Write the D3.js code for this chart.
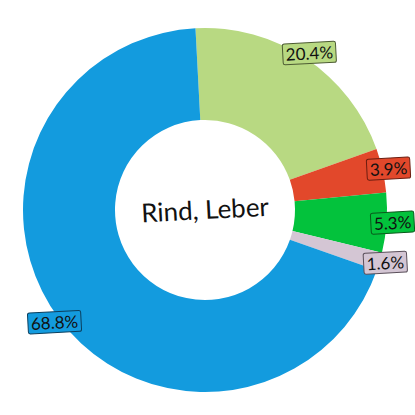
<!DOCTYPE html>
<html>
<head>
<meta charset="utf-8">
<script src="https://cdn.jsdelivr.net/npm/d3@7"></script>
<style>
  body { margin: 0; background: #fff; }
</style>
</head>
<body>
<div id="chart"></div>
<script>
// data
const categories = ["Fleisch-grün", "Rot", "Grün", "Grau", "Blau"];
const values = [20.4, 3.9, 5.3, 1.6, 68.8];
const labels = ["20.4%", "3.9%", "5.3%", "1.6%", "68.8%"];
const colors = ["#b8d982", "#e2482b", "#03c23c", "#d4c6d4", "#139bde"];
const strokes = ["#4d5c33", "#6b1d10", "#0a5a1c", "#5a4f5a", "#0b3f5e"];
const title = "Rind, Leber";

const width = 415, height = 415;
const cx = 205, cy = 210;
const outerR = 182, innerR = 90, labelR = 188;
const tilt = -3; // whole chart is slightly turned

let svg = d3.select("#chart")
    .append("svg")
    .attr("width", width)
    .attr("height", height);

let g = svg.append("g")
    .attr("transform", "translate(" + cx + "," + cy + ") rotate(" + tilt + ")");

const pie = d3.pie().sort(null).value(function(d) { return d; });
const arc = d3.arc().innerRadius(innerR).outerRadius(outerR);
const arcs = pie(values);

g.selectAll("path.slice")
    .data(arcs)
    .enter().append("path")
    .attr("class", "slice")
    .attr("d", arc)
    .attr("fill", function(d, i) { return colors[i]; });

// center title
g.append("text")
    .attr("x", 0)
    .attr("y", 0)
    .attr("dy", "0.35em")
    .attr("text-anchor", "middle")
    .style("font-family", "Lato, 'Open Sans', sans-serif")
    .style("font-size", "26px")
    .style("fill", "#111")
    .text(title);

// percent labels with boxes
const labelArc = d3.arc().innerRadius(labelR).outerRadius(labelR);
let lab = g.selectAll("g.lab")
    .data(arcs)
    .enter().append("g")
    .attr("class", "lab")
    .attr("transform", function(d) {
        const c = labelArc.centroid(d);
        return "translate(" + c[0] + "," + c[1] + ")";
    });

lab.append("text")
    .attr("text-anchor", "middle")
    .attr("dy", "0.35em")
    .style("font-family", "Lato, 'Open Sans', sans-serif")
    .style("font-size", "17px")
    .style("fill", "#111")
    .text(function(d, i) { return labels[i]; });

lab.each(function(d, i) {
    const node = d3.select(this);
    const bb = node.select("text").node().getBBox();
    node.insert("rect", "text")
        .attr("x", bb.x - 3)
        .attr("y", bb.y)
        .attr("width", bb.width + 6)
        .attr("height", bb.height)
        .attr("rx", 2)
        .attr("fill", colors[i])
        .attr("stroke", strokes[i])
        .attr("stroke-width", 1);
});
</script>
</body>
</html>
